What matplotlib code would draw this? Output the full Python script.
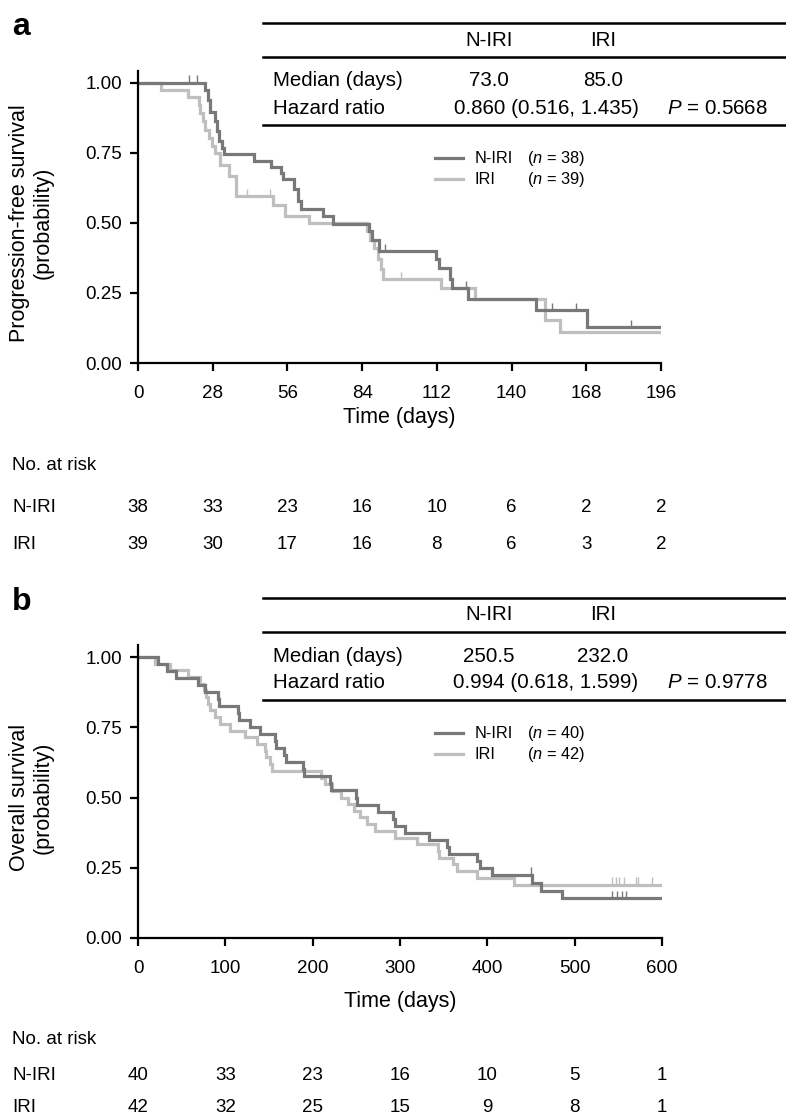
import matplotlib
matplotlib.use('Agg')
import matplotlib.pyplot as plt
import matplotlib.transforms as mtransforms
from matplotlib import font_manager
from matplotlib.lines import Line2D
import numpy as np

# ---- data ----
# a: progression-free survival (days, survival level after each step)
pfs_niri_t = [0, 25.0, 26.2, 27.1, 28.7, 29.6, 30.5, 31.5, 32.4, 43.5, 49.8, 53.6, 54.5, 58.6,
              59.9, 61.2, 69.4, 73.1, 86.4, 87.7, 90.2, 111.6, 112.9, 117.0, 117.8, 123.8, 149.0, 168.4]
pfs_niri_s = [1.0, 0.974, 0.939, 0.897, 0.862, 0.826, 0.791, 0.767, 0.744, 0.720, 0.699, 0.678, 0.655, 0.620,
              0.578, 0.548, 0.525, 0.495, 0.472, 0.440, 0.398, 0.371, 0.339, 0.300, 0.268, 0.229, 0.188, 0.127]
pfs_niri_cens = [19.2, 22.0, 92.5, 123.0, 155.1, 164.2, 184.8]

pfs_iri_t = [0, 8.8, 18.9, 22.7, 23.3, 24.2, 25.2, 26.5, 27.7, 29.0, 30.9, 34.0, 36.6, 50.7,
             55.1, 63.9, 85.8, 87.0, 88.5, 90.0, 91.0, 92.0, 113.5, 126.4, 152.6, 158.3]
pfs_iri_s = [1.0, 0.974, 0.949, 0.921, 0.891, 0.862, 0.832, 0.803, 0.773, 0.749, 0.708, 0.667, 0.596, 0.564,
             0.525, 0.501, 0.470, 0.440, 0.410, 0.370, 0.335, 0.300, 0.268, 0.229, 0.152, 0.111]
pfs_iri_cens = [41.0, 49.4, 98.4]

# b: overall survival
os_niri_t = [0, 23, 33, 44, 69, 77, 92, 93, 115, 116, 128, 140, 157, 158, 167, 170, 189, 190, 220, 221,
             250, 251, 275, 292, 294, 306, 333, 354, 356, 388, 392, 405, 451, 461, 485]
os_niri_s = [1.0, 0.975, 0.95, 0.925, 0.9, 0.875, 0.85, 0.825, 0.8, 0.775, 0.75, 0.725, 0.7, 0.675, 0.65,
             0.625, 0.6, 0.575, 0.55, 0.525, 0.5, 0.475, 0.45, 0.425, 0.4, 0.375, 0.35, 0.325, 0.3, 0.275,
             0.25, 0.225, 0.197, 0.169, 0.141]
os_niri_cens = [450, 543, 549, 554, 559]

os_iri_t = [0, 20, 37, 57, 71, 75, 78, 80, 82, 88, 94, 105, 122, 136, 145, 147, 151, 153, 210, 214,
            222, 232, 240, 247, 254, 262, 271, 294, 319, 343, 345, 361, 365, 388, 430]
os_iri_s = [1.0, 0.976, 0.952, 0.929, 0.905, 0.881, 0.857, 0.833, 0.810, 0.786, 0.762, 0.738, 0.714, 0.690,
            0.667, 0.643, 0.619, 0.595, 0.571, 0.548, 0.524, 0.500, 0.476, 0.452, 0.429, 0.405, 0.381,
            0.357, 0.333, 0.310, 0.286, 0.262, 0.238, 0.214, 0.190]
os_iri_cens = [543, 547, 551, 556, 570, 573, 588]

pfs_ticks = [0, 28, 56, 84, 112, 140, 168, 196]
os_ticks = [0, 100, 200, 300, 400, 500, 600]
pfs_risk_niri = [38, 33, 23, 16, 10, 6, 2, 2]
pfs_risk_iri = [39, 30, 17, 16, 8, 6, 3, 2]
os_risk_niri = [40, 33, 23, 16, 10, 5, 1]
os_risk_iri = [42, 32, 25, 15, 9, 8, 1]

groups = ['N-IRI', 'IRI']
pfs_n = [38, 39]
os_n = [40, 42]
pfs_median = ['73.0', '85.0']
os_median = ['250.5', '232.0']
pfs_hr = '0.860 (0.516, 1.435)'
os_hr = '0.994 (0.618, 1.599)'
pfs_p = '0.5668'
os_p = '0.9778'

DARK = '#787878'
LIGHT = '#bfbfbf'

names = {f.name for f in font_manager.fontManager.ttflist}
NARROW = 'Liberation Sans Narrow' if 'Liberation Sans Narrow' in names else 'Liberation Sans'

plt.rcParams['font.family'] = ['Liberation Sans', 'DejaVu Sans']
plt.rcParams['mathtext.fontset'] = 'custom'
plt.rcParams['mathtext.it'] = 'Liberation Sans:italic'
plt.rcParams['mathtext.rm'] = 'Liberation Sans'

W, H = 786, 1120
fig = plt.figure(figsize=(W / 100, H / 100), dpi=100)


def fx(x):
    return x / W


def fy(y):
    return 1 - y / H


def level_at(t, s, x):
    i = np.searchsorted(t, x, side='right') - 1
    return np.asarray(s)[i]


def draw_panel(off, letter, ylab, t_end, ticks, curves, n, medians, hr, p, risk, xl_y, risk_y,
               right_px, y1_px, y0_px):
    top = y0_px - 1.043 * (y0_px - y1_px)
    ax = fig.add_axes([fx(138), fy(y0_px), fx(right_px) - fx(138), (y0_px - top) / H])
    for (t, s, cens, col) in curves:
        tt = np.append(t, t_end)
        ss = np.append(s, s[-1])
        ax.step(tt, ss, where='post', color=col, lw=2.3, solid_joinstyle='miter')
        lv = level_at(t, s, np.array(cens))
        ax.vlines(cens, lv, lv + 0.026, color=col, lw=1.0)
    ax.set_xlim(0, t_end)
    ax.set_ylim(0, 1.043)
    ax.set_xticks(ticks)
    ax.set_xticklabels([str(v) for v in ticks], fontfamily=NARROW, fontsize=13.5)
    ax.set_yticks([0, 0.25, 0.5, 0.75, 1.0])
    ax.set_yticklabels(['0.00', '0.25', '0.50', '0.75', '1.00'], fontfamily=NARROW, fontsize=13.5)
    for side in ['top', 'right']:
        ax.spines[side].set_visible(False)
    for side in ['left', 'bottom']:
        ax.spines[side].set_linewidth(1.6)
    ax.tick_params(axis='both', direction='out', length=5.5, width=1.6, color='black')
    ax.tick_params(axis='x', pad=10)
    ax.tick_params(axis='y', pad=6)

    # panel letter and y label
    fig.text(fx(12), fy(off + 27), letter, fontsize=23, fontweight='bold', va='center', ha='left')
    fig.text(fx(31), fy((y0_px + y1_px) / 2), ylab, rotation=90, fontfamily=NARROW, fontsize=15.5,
             ha='center', va='center', linespacing=1.15, multialignment='center')
    fig.text(fx((138 + right_px) / 2), fy(xl_y), 'Time (days)', fontfamily=NARROW, fontsize=15.5,
             ha='center', va='center')

    # summary table
    for ly in [off + 23.3, off + 57.3, off + 124.5]:
        fig.add_artist(Line2D([fx(263), 1.0], [fy(ly), fy(ly)], color='black', lw=1.8))
    fig.text(fx(489), fy(off + 40), groups[0], fontsize=14.8, ha='center', va='center')
    fig.text(fx(603), fy(off + 40), groups[1], fontsize=14.8, ha='center', va='center')
    fig.text(fx(273), fy(off + 81), 'Median (days)', fontsize=14.8, ha='left', va='center')
    fig.text(fx(489), fy(off + 81), medians[0], fontsize=14.8, ha='center', va='center')
    fig.text(fx(603), fy(off + 81), medians[1], fontsize=14.8, ha='center', va='center')
    fig.text(fx(273), fy(off + 108), 'Hazard ratio', fontsize=14.8, ha='left', va='center')
    fig.text(fx(546), fy(off + 108), hr, fontsize=14.8, ha='center', va='center')
    fig.text(fx(768), fy(off + 108), '$P$ = ' + p, fontsize=14.8, ha='right', va='center')

    # legend
    for k, (ly, col) in enumerate([(off + 158.3, DARK), (off + 179.3, LIGHT)]):
        fig.add_artist(Line2D([fx(435), fx(463)], [fy(ly), fy(ly)], color=col, lw=2.3))
        fig.text(fx(475), fy(ly), groups[k], fontsize=11.8, ha='left', va='center')
        fig.text(fx(527), fy(ly), '($n$ = %d)' % n[k], fontsize=11.8, ha='left', va='center')

    # number at risk
    trans = mtransforms.blended_transform_factory(ax.transData, fig.transFigure)
    fig.text(fx(12), fy(risk_y[0]), 'No. at risk', fontfamily=NARROW, fontsize=13.5, ha='left', va='center')
    for k in range(2):
        fig.text(fx(12), fy(risk_y[k + 1]), groups[k], fontfamily=NARROW, fontsize=13.5,
                 ha='left', va='center')
        for tk, v in zip(ticks, risk[k]):
            ax.text(tk, fy(risk_y[k + 1]), str(v), transform=trans, fontfamily=NARROW, fontsize=13.5,
                    ha='center', va='center', clip_on=False)
    return ax


draw_panel(0, 'a', 'Progression-free survival\n(probability)', 196, pfs_ticks,
           [(pfs_iri_t, pfs_iri_s, pfs_iri_cens, LIGHT), (pfs_niri_t, pfs_niri_s, pfs_niri_cens, DARK)],
           pfs_n, pfs_median, pfs_hr, pfs_p, [pfs_risk_niri, pfs_risk_iri], 418, [465, 508, 545],
           661, 82.7, 363)

draw_panel(575, 'b', 'Overall survival\n(probability)', 600, os_ticks,
           [(os_iri_t, os_iri_s, os_iri_cens, LIGHT), (os_niri_t, os_niri_s, os_niri_cens, DARK)],
           os_n, os_median, os_hr, os_p, [os_risk_niri, os_risk_iri], 1002, [1040, 1075, 1108],
           662, 657, 938)

fig.savefig('out.png', dpi=100)
